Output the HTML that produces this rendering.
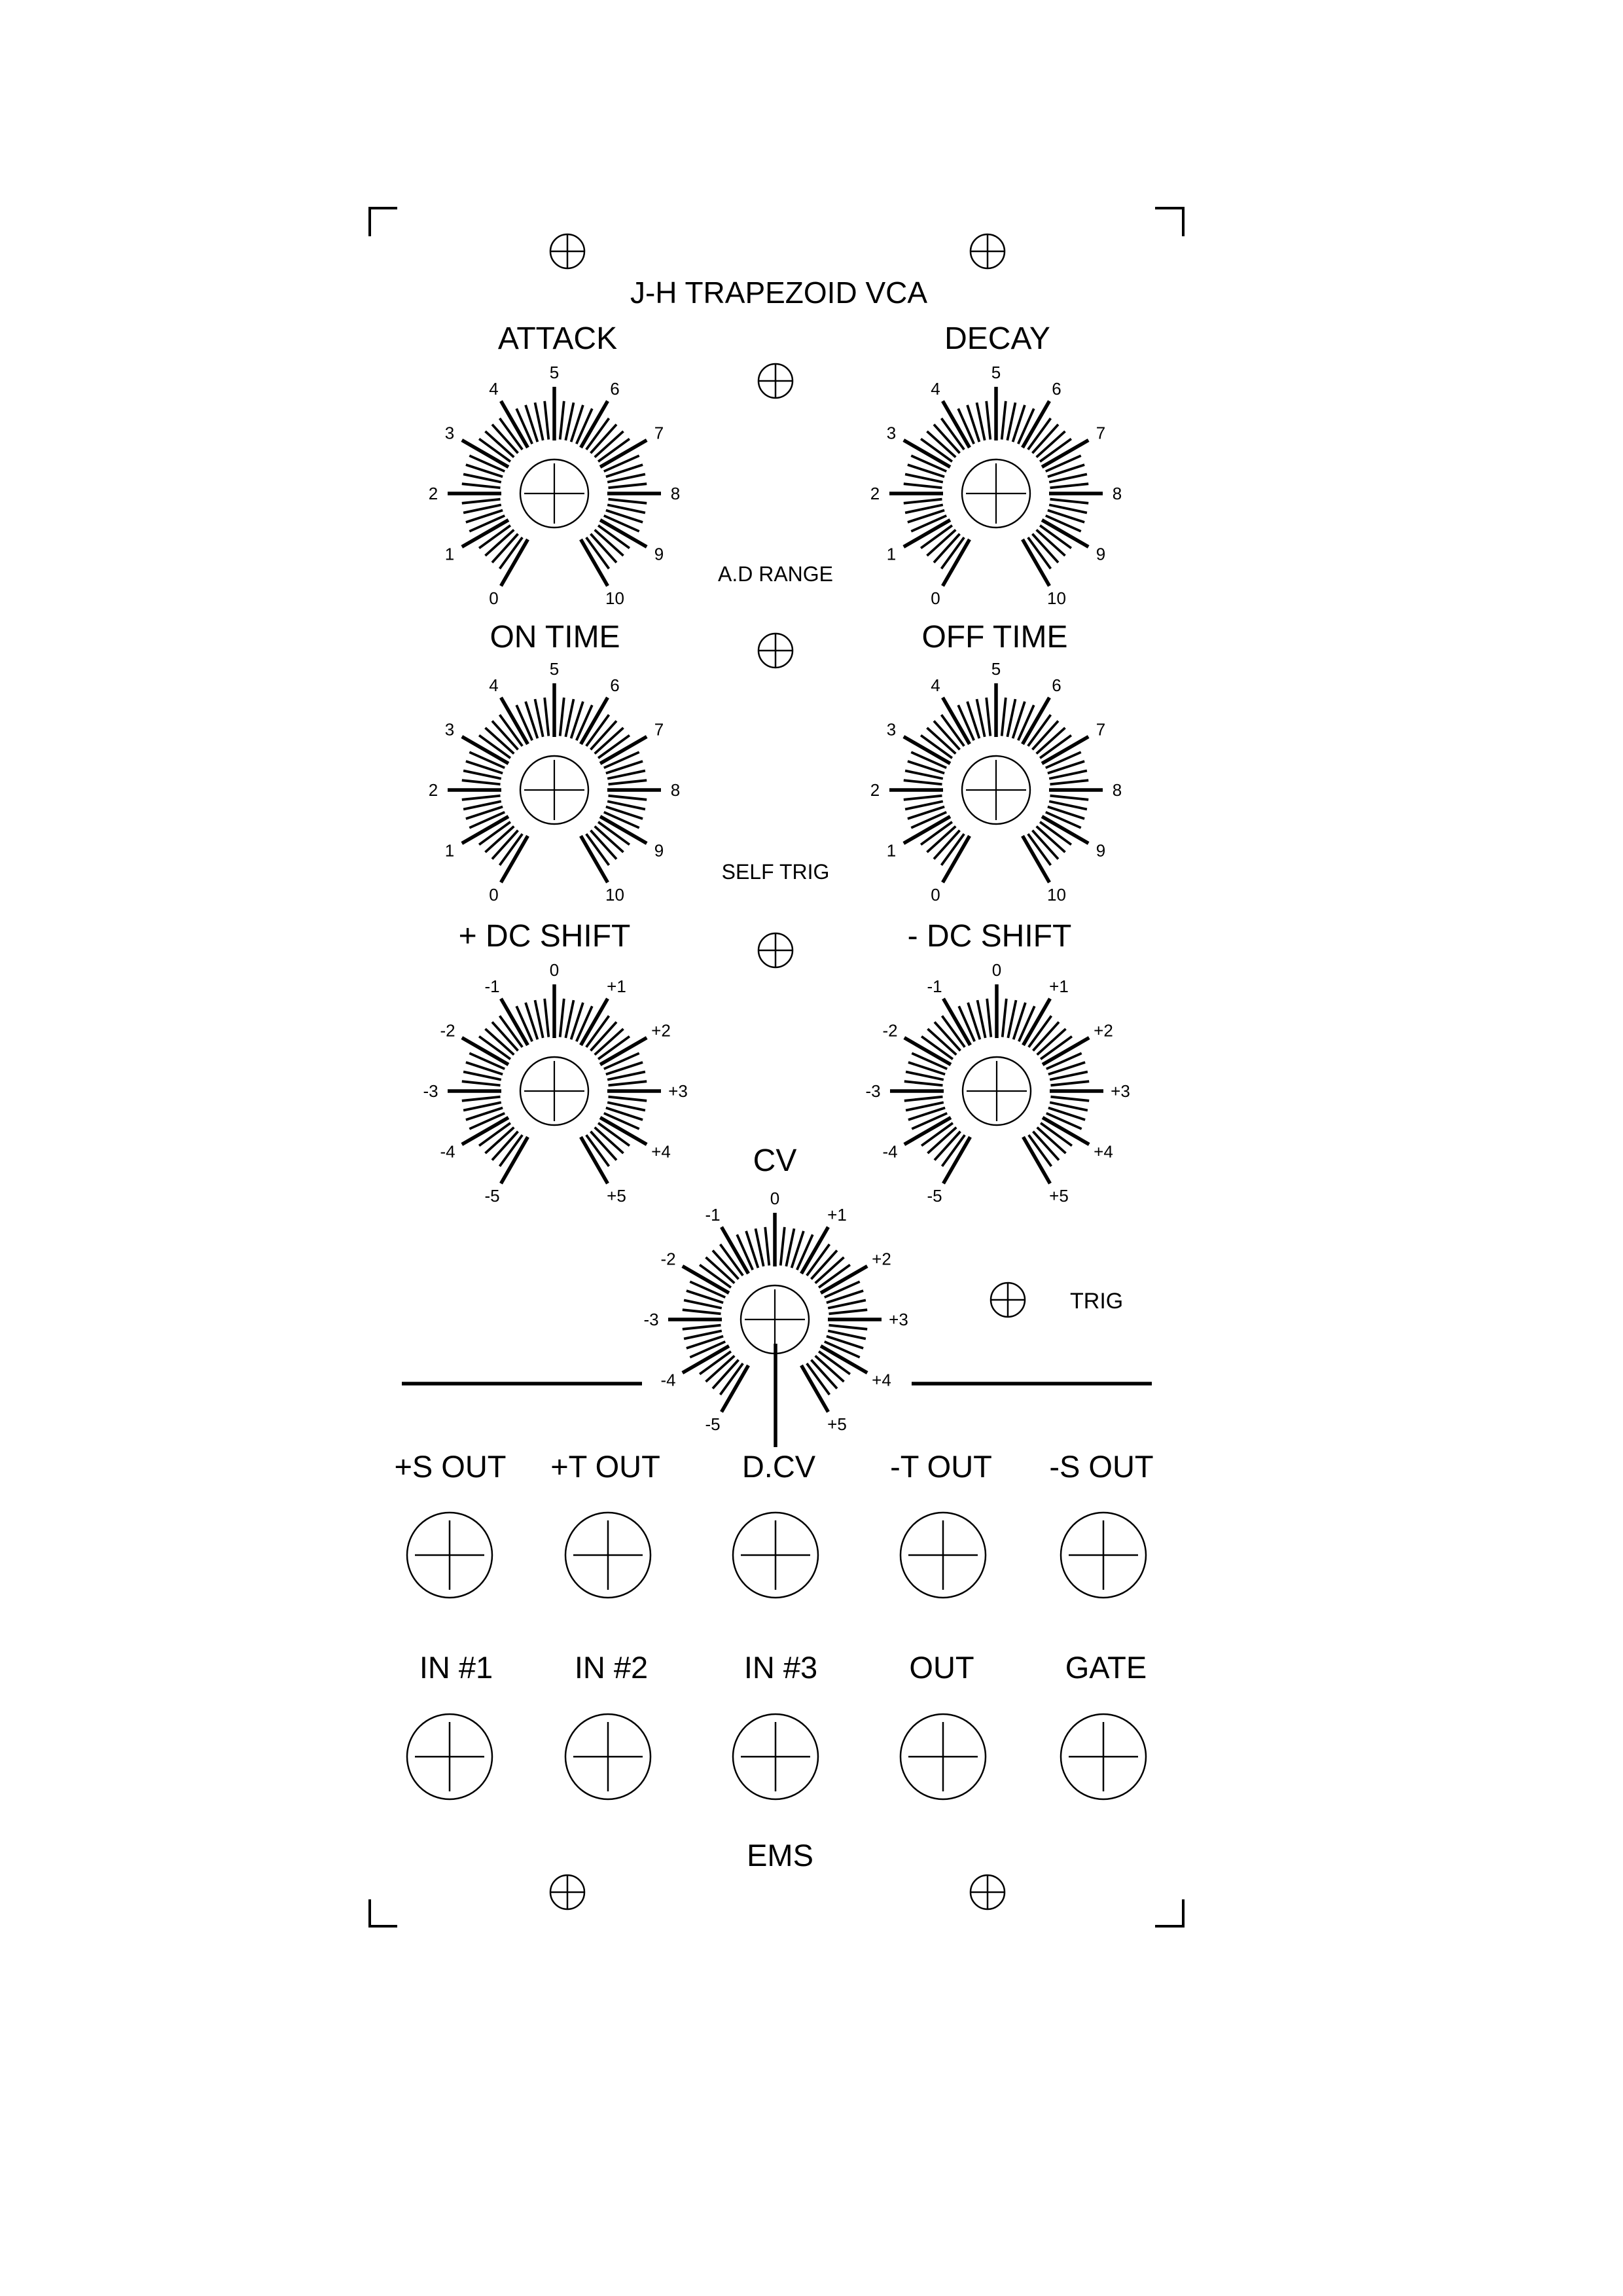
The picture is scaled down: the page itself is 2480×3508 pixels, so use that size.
<!DOCTYPE html>
<html><head><meta charset="utf-8">
<style>
html,body{margin:0;padding:0;background:#fff;}
svg{display:block;}
text{font-family:"Liberation Sans",Arial,sans-serif;fill:#000;}
</style></head>
<body>
<svg id="s" width="2480" height="3508" viewBox="0 0 2480 3508" xmlns="http://www.w3.org/2000/svg">
<defs>
<g id="ticks"></g>
<g id="knob">
  <use href="#ticks"/>
  <circle r="52" fill="none" stroke="#000" stroke-width="2.4"/>
  <line x1="-46" y1="0" x2="46" y2="0" stroke="#000" stroke-width="2.2"/>
  <line x1="0" y1="-46" x2="0" y2="46" stroke="#000" stroke-width="2.2"/>
</g>
<g id="screw">
  <circle r="26" fill="none" stroke="#000" stroke-width="2.5"/>
  <line x1="-26" y1="0" x2="26" y2="0" stroke="#000" stroke-width="2.5"/>
  <line x1="0" y1="-26" x2="0" y2="26" stroke="#000" stroke-width="2.5"/>
</g>
<g id="jack">
  <circle r="65" fill="none" stroke="#000" stroke-width="2.5"/>
  <line x1="-53" y1="0" x2="53" y2="0" stroke="#000" stroke-width="2.5"/>
  <line x1="0" y1="-53" x2="0" y2="53" stroke="#000" stroke-width="2.5"/>
</g>
<g id="uni" font-size="26" text-anchor="middle">
  <text x="-92.5" y="169">0</text><text x="-160" y="101.5">1</text><text x="-185" y="9">2</text>
  <text x="-160" y="-83.5">3</text><text x="-92.5" y="-151">4</text><text x="0" y="-176">5</text>
  <text x="92.5" y="-151">6</text><text x="160" y="-83.5">7</text><text x="185" y="9">8</text>
  <text x="160" y="101.5">9</text><text x="92.5" y="169">10</text>
</g>
<g id="bi" font-size="26" text-anchor="middle">
  <text x="-95" y="169">-5</text><text x="-163" y="101.5">-4</text><text x="-189" y="9">-3</text>
  <text x="-163" y="-83.5">-2</text><text x="-95" y="-151">-1</text><text x="0" y="-176">0</text>
  <text x="95" y="-151">+1</text><text x="163" y="-83.5">+2</text><text x="189" y="9">+3</text>
  <text x="163" y="101.5">+4</text><text x="95" y="169">+5</text>
</g>
</defs>

<g stroke="#000" stroke-width="4" fill="none">
  <polyline points="565,361 565,318 607,318"/>
  <polyline points="1765,318 1808,318 1808,361"/>
  <polyline points="565,2902 565,2943 607,2943"/>
  <polyline points="1765,2943 1808,2943 1808,2902"/>
</g>

<use href="#screw" x="867" y="384"/>
<use href="#screw" x="1509" y="384"/>
<use href="#screw" x="867" y="2891"/>
<use href="#screw" x="1509" y="2891"/>
<use href="#screw" x="1185" y="582"/>
<use href="#screw" x="1185" y="994"/>
<use href="#screw" x="1185" y="1452"/>
<use href="#screw" x="1540" y="1986"/>

<text x="1190" y="463" font-size="46" text-anchor="middle">J-H TRAPEZOID VCA</text>

<g font-size="48" text-anchor="middle">
  <text x="852" y="533">ATTACK</text>
  <text x="1524" y="533">DECAY</text>
  <text x="848" y="989">ON TIME</text>
  <text x="1520" y="989">OFF TIME</text>
  <text x="832" y="1446">+ DC SHIFT</text>
  <text x="1512" y="1446">- DC SHIFT</text>
  <text x="1184" y="1789">CV</text>
</g>

<g font-size="32" text-anchor="middle">
  <text x="1185" y="888">A.D RANGE</text>
  <text x="1185" y="1343">SELF TRIG</text>
</g>
<text x="1635" y="1999" font-size="34">TRIG</text>

<g transform="translate(847,754)"><use href="#knob"/><use href="#uni"/></g>
<g transform="translate(1522,754)"><use href="#knob"/><use href="#uni"/></g>
<g transform="translate(847,1207)"><use href="#knob"/><use href="#uni"/></g>
<g transform="translate(1522,1207)"><use href="#knob"/><use href="#uni"/></g>
<g transform="translate(847,1667)"><use href="#knob"/><use href="#bi"/></g>
<g transform="translate(1523,1667)"><use href="#knob"/><use href="#bi"/></g>
<g transform="translate(1184,2016)"><use href="#knob"/><use href="#bi"/></g>

<g stroke="#000" stroke-width="5.5">
  <line x1="614" y1="2114" x2="981" y2="2114"/>
  <line x1="1393" y1="2114" x2="1760" y2="2114"/>
  <line x1="1185" y1="2053" x2="1185" y2="2211"/>
</g>

<g font-size="47" text-anchor="middle">
  <text x="688" y="2257">+S OUT</text>
  <text x="925" y="2257">+T OUT</text>
  <text x="1190" y="2257">D.CV</text>
  <text x="1438" y="2257">-T OUT</text>
  <text x="1683" y="2257">-S OUT</text>
  <text x="697" y="2564">IN #1</text>
  <text x="934" y="2564">IN #2</text>
  <text x="1193" y="2564">IN #3</text>
  <text x="1439" y="2564">OUT</text>
  <text x="1690" y="2564">GATE</text>
  <text x="1192" y="2851">EMS</text>
</g>

<use href="#jack" x="687" y="2376"/>
<use href="#jack" x="929" y="2376"/>
<use href="#jack" x="1185" y="2376"/>
<use href="#jack" x="1441" y="2376"/>
<use href="#jack" x="1686" y="2376"/>
<use href="#jack" x="687" y="2684"/>
<use href="#jack" x="929" y="2684"/>
<use href="#jack" x="1185" y="2684"/>
<use href="#jack" x="1441" y="2684"/>
<use href="#jack" x="1686" y="2684"/>
</svg>
<script>
(function(){
  var g=document.getElementById('ticks'),h='';
  for(var i=0;i<=50;i++){
    var a=(240-6*i)*Math.PI/180,maj=(i%5==0);
    var r1=maj?81:83,r2=maj?163:142;
    var c=Math.cos(a),s=-Math.sin(a);
    h+='<line x1="'+(r1*c).toFixed(1)+'" y1="'+(r1*s).toFixed(1)+'" x2="'+(r2*c).toFixed(1)+'" y2="'+(r2*s).toFixed(1)+'" stroke="#000" stroke-width="'+(maj?5.5:3.8)+'"/>';
  }
  g.innerHTML=h;
})();
</script>
</body></html>
